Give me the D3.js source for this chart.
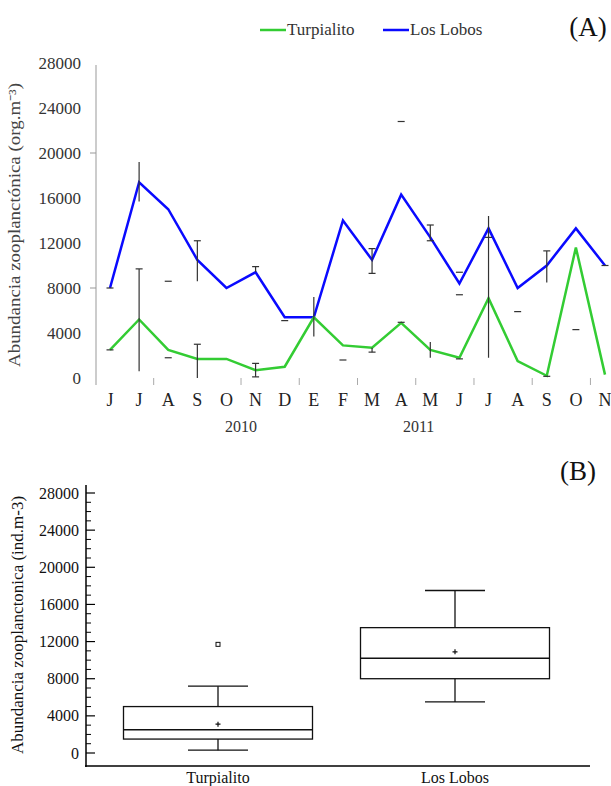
<!DOCTYPE html>
<html>
<head>
<meta charset="utf-8">
<script src="https://cdn.jsdelivr.net/npm/d3@7"></script>
</head>
<body style="margin:0;background:#fff">
<svg id="chart" width="611" height="786"></svg>
<script>
// Monthly zooplankton abundance, June 2010 – November 2011
const months = ["J","J","A","S","O","N","D","E","F","M","A","M","J","J","A","S","O","N"];
const years = [{ label: "2010", at: 4.5 }, { label: "2011", at: 10.6 }];
const yTicksA = [0, 4000, 8000, 12000, 16000, 20000, 24000, 28000];
const markedTicksA = [8000, 20000];
const boundaryTicks = [1.5, 4.5, 6.5, 8.5, 10.5, 12.5, 14.5, 16.5];

const turpialito = [2500, 5200, 2500, 1700, 1700, 700, 1000, 5400, 2900, 2700, 4900, 2500, 1800, 7100, 1500, 200, 11600, 300];
const losLobos   = [8000, 17400, 15000, 10500, 8000, 9400, 5400, 5400, 14000, 10500, 16300, 12500, 8400, 13300, 8000, 10000, 13300, 10000];

// Error bars: [month index, low, high, cap at low, cap at high]
const turpialitoErr = [
  [0, 2500, 2500, 1, 1], [1, 600, 9700, 0, 1], [2, 1800, 1800, 1, 1],
  [3, 0, 3000, 0, 1], [5, 100, 1300, 1, 1], [8, 1600, 1600, 1, 1],
  [9, 2300, 2700, 1, 0], [10, 4950, 4950, 1, 1], [11, 1800, 3200, 0, 0],
  [12, 1700, 1700, 1, 1], [13, 1800, 12500, 0, 0], [15, 150, 150, 1, 1]
];
const losLobosErr = [
  [0, 8000, 8000, 1, 1], [1, 15700, 19200, 0, 0], [2, 8600, 8600, 1, 1],
  [3, 8600, 12200, 0, 1], [5, 9400, 9900, 0, 1], [6, 5100, 5100, 1, 1],
  [7, 3700, 7200, 0, 0], [9, 9300, 11500, 1, 1], [10, 22800, 22800, 1, 1],
  [11, 12200, 13600, 1, 1], [12, 7400, 7400, 1, 1], [12, 9400, 9400, 1, 1],
  [13, 12500, 14400, 1, 0], [14, 5900, 5900, 1, 1], [15, 8500, 11300, 0, 1],
  [16, 4300, 4300, 1, 1], [17, 10000, 10000, 1, 1]
];

// Box-plot summaries per site
const sites = ["Turpialito", "Los Lobos"];
const whiskerLow  = [300, 5500];
const quartile1   = [1500, 8000];
const medians     = [2500, 10200];
const quartile3   = [5000, 13500];
const whiskerHigh = [7200, 17500];
const means       = [3100, 10900];
const outliers    = [[11700], []];
const yTicksB = [0, 4000, 8000, 12000, 16000, 20000, 24000, 28000];

const colors = { "Turpialito": "#33cc33", "Los Lobos": "#0a0aff" };
const serif = "'Liberation Serif', 'Times New Roman', serif";

const svg = d3.select("#chart");

// ---------- Panel A: time series ----------
const xA = d3.scaleLinear().domain([0, months.length - 1]).range([110, 605]);
const yA = d3.scaleLinear().domain([0, 28000]).range([378, 63]);

const gA = svg.append("g");

gA.append("line")
  .attr("x1", 96).attr("x2", 96).attr("y1", 65).attr("y2", 385)
  .attr("stroke", "#999").attr("stroke-width", 1);

gA.selectAll("text.ytA").data(yTicksA).join("text")
  .attr("class", "ytA")
  .attr("x", 81).attr("y", d => yA(d))
  .attr("dy", "0.35em").attr("text-anchor", "end")
  .attr("font-size", 17).attr("fill", "#333")
  .text(d => d);

gA.selectAll("line.ymA").data(markedTicksA).join("line")
  .attr("class", "ymA")
  .attr("x1", 90).attr("x2", 96).attr("y1", d => yA(d)).attr("y2", d => yA(d))
  .attr("stroke", "#999");

gA.selectAll("line.btA").data(boundaryTicks).join("line")
  .attr("class", "btA")
  .attr("x1", d => xA(d)).attr("x2", d => xA(d)).attr("y1", 378).attr("y2", 385)
  .attr("stroke", "#aaa");

gA.selectAll("text.month").data(months).join("text")
  .attr("class", "month")
  .attr("x", (d, i) => xA(i)).attr("y", 406)
  .attr("text-anchor", "middle").attr("font-size", 18).attr("fill", "#222")
  .text(d => d);

gA.selectAll("text.year").data(years).join("text")
  .attr("class", "year")
  .attr("x", d => xA(d.at)).attr("y", 432)
  .attr("text-anchor", "middle").attr("font-size", 16).attr("fill", "#333")
  .text(d => d.label);

gA.append("text")
  .attr("transform", "translate(20,225) rotate(-90)")
  .attr("text-anchor", "middle").attr("font-size", 16).attr("fill", "#444")
  .attr("textLength", 284).attr("lengthAdjust", "spacingAndGlyphs")
  .text("Abundancia zooplanctónica (org.m⁻³)");

const lineA = d3.line().x((d, i) => xA(i)).y(d => yA(d));

function drawErrors(err) {
  const g = gA.append("g").attr("stroke", "#333").attr("stroke-width", 1.2);
  err.forEach(([i, lo, hi, capLo, capHi]) => {
    const x = xA(i);
    if (hi > lo) {
      g.append("line").attr("x1", x).attr("x2", x).attr("y1", yA(lo)).attr("y2", yA(hi));
    }
    if (capLo) g.append("line").attr("x1", x - 3.5).attr("x2", x + 3.5).attr("y1", yA(lo)).attr("y2", yA(lo));
    if (capHi && hi > lo) g.append("line").attr("x1", x - 3.5).attr("x2", x + 3.5).attr("y1", yA(hi)).attr("y2", yA(hi));
  });
}

gA.append("path").datum(losLobos)
  .attr("d", lineA).attr("fill", "none")
  .attr("stroke", colors["Los Lobos"]).attr("stroke-width", 2.5);
gA.append("path").datum(turpialito)
  .attr("d", lineA).attr("fill", "none")
  .attr("stroke", colors["Turpialito"]).attr("stroke-width", 2.5);

drawErrors(losLobosErr);
drawErrors(turpialitoErr);

// Legend
const legend = svg.append("g");
const legendItems = [{ name: "Turpialito", x: 260 }, { name: "Los Lobos", x: 383 }];
legendItems.forEach(d => {
  legend.append("line").attr("x1", d.x).attr("x2", d.x + 26).attr("y1", 30).attr("y2", 30)
    .attr("stroke", colors[d.name]).attr("stroke-width", 2.5);
  legend.append("text").attr("x", d.x + 27).attr("y", 35)
    .attr("font-size", 17).attr("fill", "#333").text(d.name);
});

svg.append("text").attr("x", 588).attr("y", 36).attr("text-anchor", "middle")
  .attr("font-size", 27).attr("fill", "#111").text("(A)");

// ---------- Panel B: box plots ----------
const xB = d3.scalePoint().domain(sites).range([218, 455]);
const yB = d3.scaleLinear().domain([0, 28000]).range([753, 493]);
const boxW = 189, capW = 60;

const gB = svg.append("g");

gB.append("line").attr("x1", 86).attr("x2", 86).attr("y1", 485).attr("y2", 767)
  .attr("stroke", "#000").attr("stroke-width", 1.5);
gB.append("line").attr("x1", 85).attr("x2", 590).attr("y1", 766).attr("y2", 766)
  .attr("stroke", "#000").attr("stroke-width", 1.5);

const minorB = d3.range(0, 28001, 1000).filter(v => v % 4000 !== 0);
gB.selectAll("line.minB").data(minorB).join("line")
  .attr("class", "minB")
  .attr("x1", 86).attr("x2", 91).attr("y1", d => yB(d)).attr("y2", d => yB(d))
  .attr("stroke", "#000").attr("stroke-width", 1);
gB.selectAll("line.majB").data(yTicksB).join("line")
  .attr("class", "majB")
  .attr("x1", 86).attr("x2", 95).attr("y1", d => yB(d)).attr("y2", d => yB(d))
  .attr("stroke", "#000").attr("stroke-width", 1.2);
gB.selectAll("text.ytB").data(yTicksB).join("text")
  .attr("class", "ytB")
  .attr("x", 79).attr("y", d => yB(d))
  .attr("dy", "0.35em").attr("text-anchor", "end")
  .attr("font-size", 16).attr("fill", "#111")
  .text(d => d);

gB.append("text")
  .attr("transform", "translate(23,625) rotate(-90)")
  .attr("text-anchor", "middle").attr("font-size", 17).attr("fill", "#111")
  .text("Abundancia zooplanctonica (ind.m-3)");

gB.selectAll("text.site").data(sites).join("text")
  .attr("class", "site")
  .attr("x", d => xB(d)).attr("y", 783)
  .attr("text-anchor", "middle").attr("font-size", 16).attr("fill", "#111")
  .text(d => d);

sites.forEach((s, i) => {
  const cx = xB(s);
  const g = gB.append("g").attr("stroke", "#111").attr("stroke-width", 1.3).attr("fill", "none");
  // whiskers
  g.append("line").attr("x1", cx).attr("x2", cx).attr("y1", yB(whiskerLow[i])).attr("y2", yB(quartile1[i]));
  g.append("line").attr("x1", cx).attr("x2", cx).attr("y1", yB(quartile3[i])).attr("y2", yB(whiskerHigh[i]));
  g.append("line").attr("x1", cx - capW / 2).attr("x2", cx + capW / 2).attr("y1", yB(whiskerLow[i])).attr("y2", yB(whiskerLow[i]));
  g.append("line").attr("x1", cx - capW / 2).attr("x2", cx + capW / 2).attr("y1", yB(whiskerHigh[i])).attr("y2", yB(whiskerHigh[i]));
  // box and median
  g.append("rect").attr("x", cx - boxW / 2).attr("width", boxW)
    .attr("y", yB(quartile3[i])).attr("height", yB(quartile1[i]) - yB(quartile3[i]));
  g.append("line").attr("x1", cx - boxW / 2).attr("x2", cx + boxW / 2)
    .attr("y1", yB(medians[i])).attr("y2", yB(medians[i])).attr("stroke-width", 1.6);
  // mean marker
  g.append("path").attr("d", `M${cx - 2.5},${yB(means[i])}h5M${cx},${yB(means[i]) - 2.5}v5`).attr("stroke-width", 1.2);
  // outliers
  outliers[i].forEach(v => {
    g.append("rect").attr("x", cx - 2).attr("y", yB(v) - 2).attr("width", 4).attr("height", 4).attr("stroke-width", 1);
  });
});

svg.append("text").attr("x", 578).attr("y", 480).attr("text-anchor", "middle")
  .attr("font-size", 27).attr("fill", "#111").text("(B)");

// Serif typeface for every label
svg.selectAll("text").style("font-family", serif);
</script>
</body>
</html>
